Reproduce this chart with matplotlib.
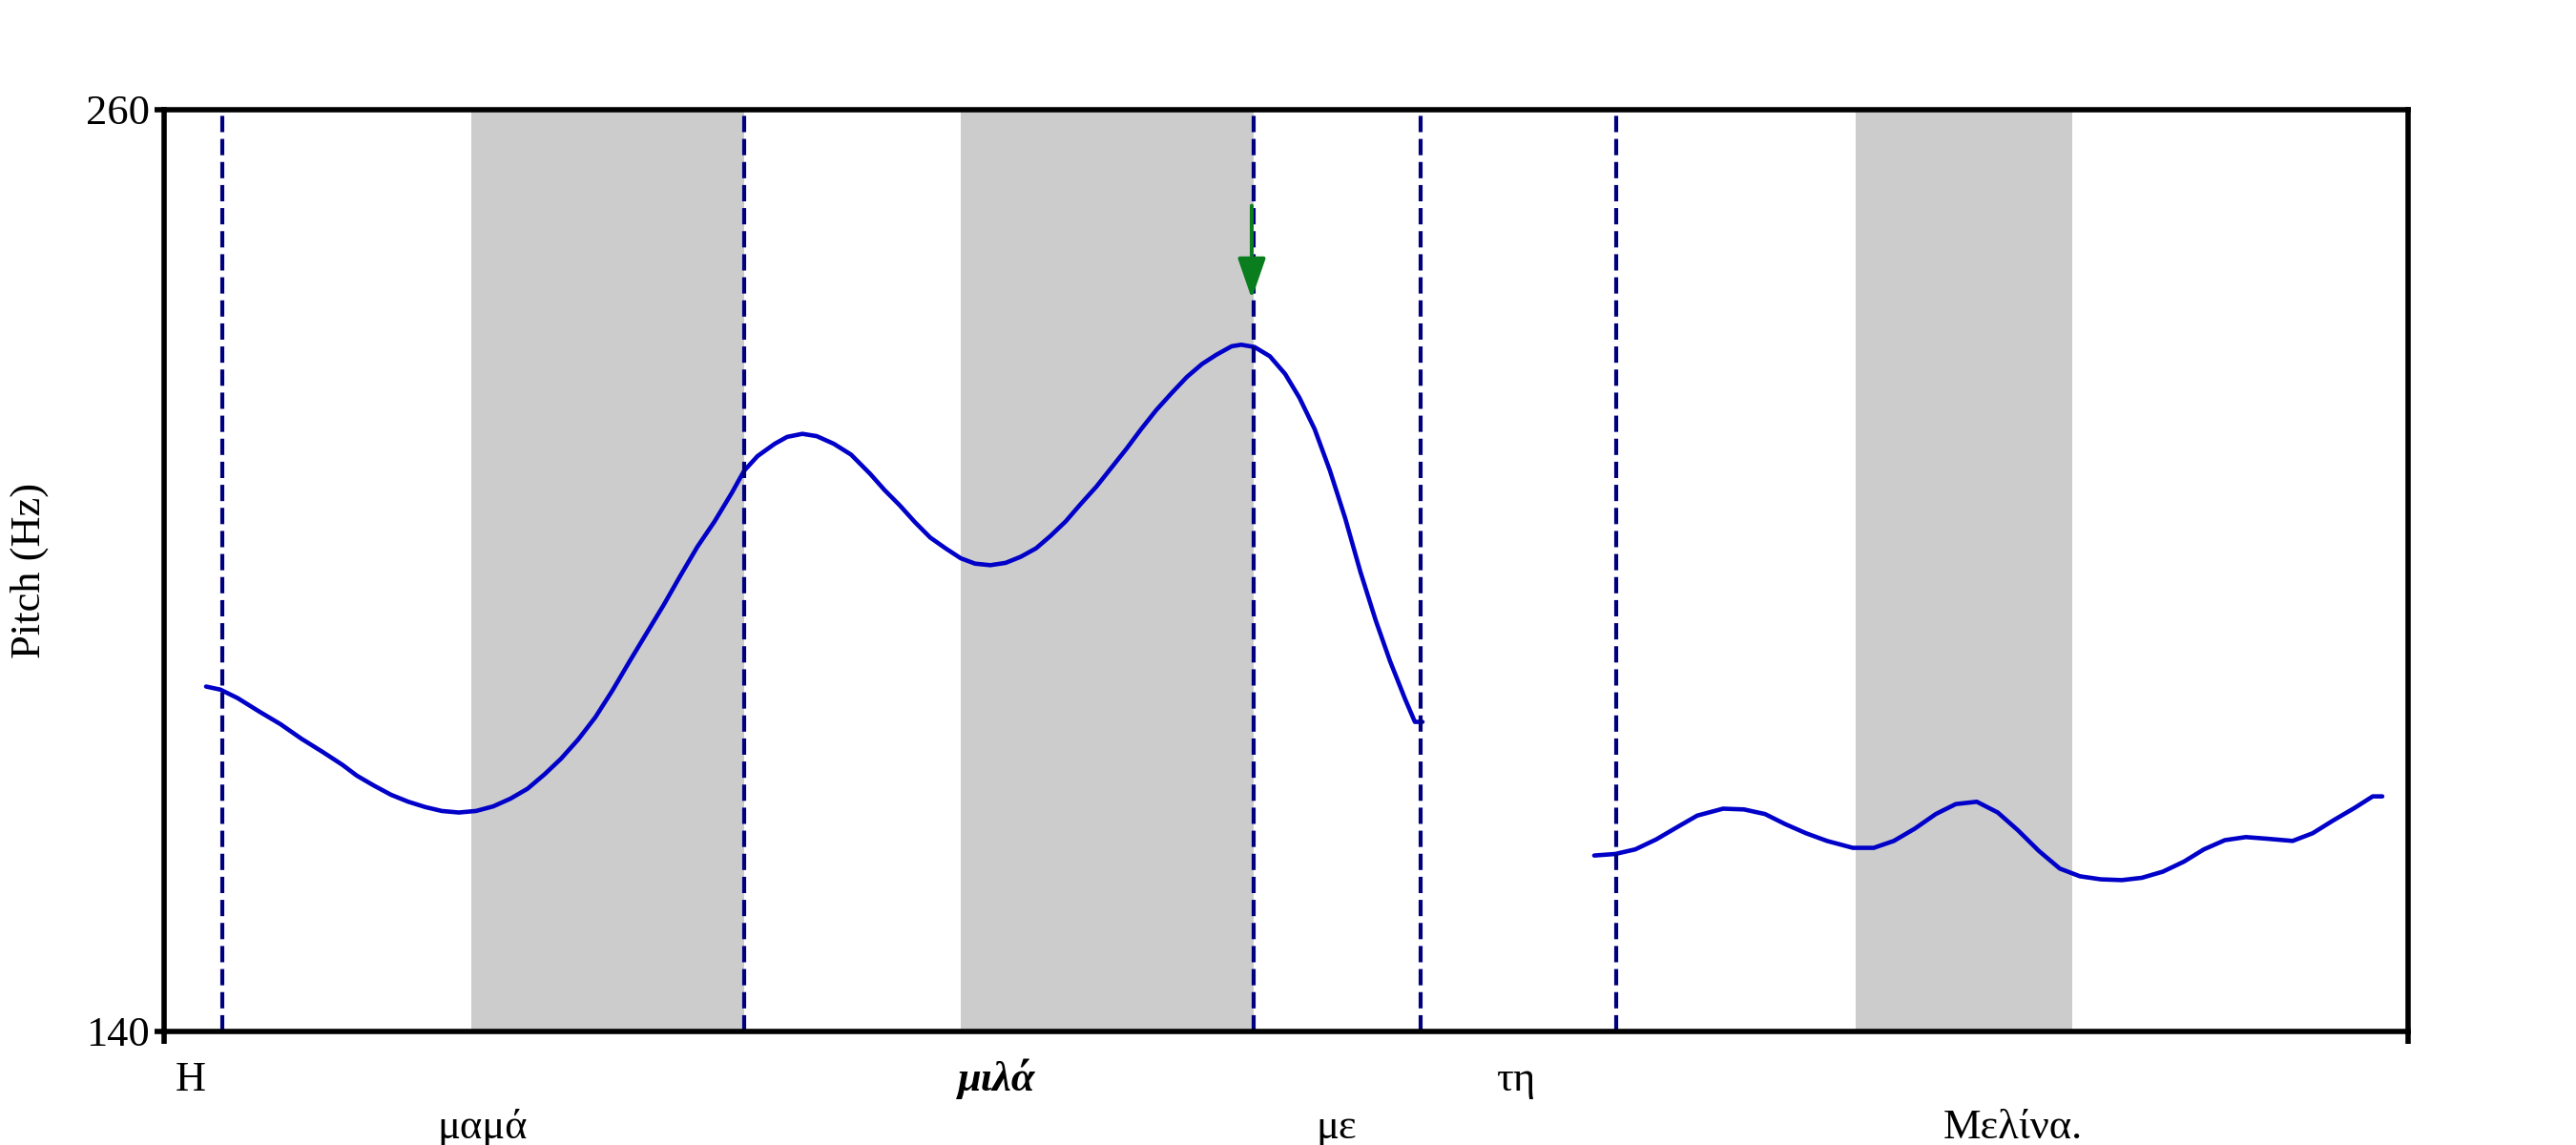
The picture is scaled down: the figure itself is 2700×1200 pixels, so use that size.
import matplotlib.pyplot as plt
from matplotlib.transforms import blended_transform_factory

# Pitch contour, first stretch (time in s, pitch in Hz)
time_a = [0.044, 0.059, 0.077, 0.099, 0.122, 0.144, 0.166, 0.187, 0.202, 0.220,
          0.238, 0.256, 0.274, 0.291, 0.309, 0.327, 0.345, 0.363, 0.381, 0.399,
          0.416, 0.434, 0.452, 0.470, 0.488, 0.506, 0.524, 0.541, 0.559, 0.577,
          0.595, 0.608, 0.622, 0.640, 0.653, 0.669, 0.684, 0.702, 0.720, 0.740,
          0.755, 0.771, 0.787, 0.803, 0.819, 0.835, 0.850, 0.866, 0.882, 0.898,
          0.914, 0.929, 0.945, 0.961, 0.977, 0.993, 1.009, 1.024, 1.040, 1.056,
          1.072, 1.088, 1.103, 1.119, 1.129, 1.143, 1.159, 1.175, 1.190, 1.206,
          1.222, 1.238, 1.254, 1.270, 1.285, 1.301, 1.311, 1.319]
pitch_a = [184.9, 184.5, 183.4, 181.7, 180.0, 178.1, 176.4, 174.7, 173.3, 172.0,
           170.8, 169.9, 169.2, 168.7, 168.5, 168.7, 169.3, 170.3, 171.6, 173.5,
           175.5, 178.0, 180.9, 184.4, 188.2, 191.9, 195.6, 199.3, 203.1, 206.4,
           210.1, 213.0, 214.9, 216.5, 217.4, 217.8, 217.5, 216.5, 215.1, 212.6,
           210.5, 208.5, 206.3, 204.3, 202.9, 201.6, 200.9, 200.7, 201.0, 201.8,
           202.9, 204.5, 206.4, 208.7, 210.9, 213.4, 215.9, 218.4, 220.9, 223.1,
           225.2, 226.9, 228.1, 229.2, 229.4, 229.1, 227.9, 225.6, 222.5, 218.4,
           213.0, 206.8, 199.8, 193.5, 188.2, 183.2, 180.3, 180.3]

# Pitch contour, second stretch
time_b = [1.499, 1.521, 1.542, 1.564, 1.586, 1.607, 1.634, 1.656, 1.678, 1.699,
          1.721, 1.743, 1.770, 1.792, 1.813, 1.835, 1.857, 1.878, 1.900, 1.922,
          1.943, 1.965, 1.987, 2.008, 2.030, 2.052, 2.073, 2.095, 2.117, 2.138,
          2.160, 2.182, 2.203, 2.231, 2.252, 2.274, 2.296, 2.315, 2.325]
pitch_b = [162.9, 163.1, 163.7, 165.0, 166.6, 168.1, 169.0, 168.9, 168.3, 167.0,
           165.8, 164.8, 163.9, 163.9, 164.8, 166.4, 168.3, 169.6, 169.9, 168.5,
           166.2, 163.5, 161.2, 160.2, 159.8, 159.7, 160.0, 160.8, 162.1, 163.7,
           164.9, 165.3, 165.1, 164.8, 165.8, 167.5, 169.1, 170.6, 170.6]

# Word boundaries (dashed lines)
boundaries = [0.061, 0.608, 1.142, 1.317, 1.522]

# Shaded stressed syllables
shade_start = [0.322, 0.835, 1.773]
shade_end = [0.608, 1.142, 2.000]

# Word labels: text, centre time, row (0 = upper, 1 = lower)
words = ['Η', 'μαμά', 'μιλά', 'με', 'τη', 'Μελίνα.']
word_times = [0.028, 0.334, 0.873, 1.229, 1.417, 1.938]
word_rows = [0, 1, 0, 1, 0, 1]

# Arrow marking the peak
arrow_time = 1.140
arrow_from = 247.5
arrow_to = 235.4

x_max = 2.352
y_min, y_max = 140, 260

plt.rcParams['font.family'] = ['Liberation Serif', 'DejaVu Serif']

fig = plt.figure(figsize=(27, 12), dpi=100)
ax = fig.add_axes([0.0637, 0.0992, 0.8711, 0.805])

for s, e in zip(shade_start, shade_end):
    ax.axvspan(s, e, color='#cccccc', lw=0, zorder=1)

ax.plot(time_a, pitch_a, color='#0000c8', lw=3.3, zorder=3,
        solid_joinstyle='round', solid_capstyle='round')
ax.plot(time_b, pitch_b, color='#0000c8', lw=3.3, zorder=3,
        solid_joinstyle='round', solid_capstyle='round')

for b in boundaries:
    ax.axvline(b, color='#00007f', lw=3.0, linestyle=(0, (4.1, 1.7)), zorder=4)

ax.annotate('', xy=(arrow_time, arrow_to), xytext=(arrow_time, arrow_from),
            arrowprops=dict(arrowstyle='-|>,head_length=1.3,head_width=0.45',
                            mutation_scale=20, color='#0a7d1e', lw=2.9,
                            shrinkA=0, shrinkB=0),
            zorder=5)

ax.set_xlim(0, x_max)
ax.set_ylim(y_min, y_max)
ax.set_yticks([y_min, y_max])
ax.set_yticklabels([str(y_min), str(y_max)])
ax.set_xticks([0, x_max])
ax.set_xticklabels([])
ax.tick_params(axis='y', direction='out', length=7, width=4, pad=4, labelsize=32)
ax.tick_params(axis='x', direction='out', length=9, width=4)
for sp in ax.spines.values():
    sp.set_linewidth(4)
    sp.set_zorder(6)

ax.set_ylabel('Pitch (Hz)', fontsize=32)
ax.yaxis.set_label_coords(-0.060, 0.5)
ax.yaxis.label.set_verticalalignment('center')

trans = blended_transform_factory(ax.transData, ax.transAxes)
row_y = [-0.0642, -0.1159]
for w, t, r in zip(words, word_times, word_rows):
    if w == 'μιλά':
        ax.text(t, row_y[r], w, transform=trans, ha='center', va='baseline',
                fontsize=32, fontweight='bold', style='italic')
    else:
        ax.text(t, row_y[r], w, transform=trans, ha='center', va='baseline',
                fontsize=32)

fig.savefig('out.png', dpi=100)
